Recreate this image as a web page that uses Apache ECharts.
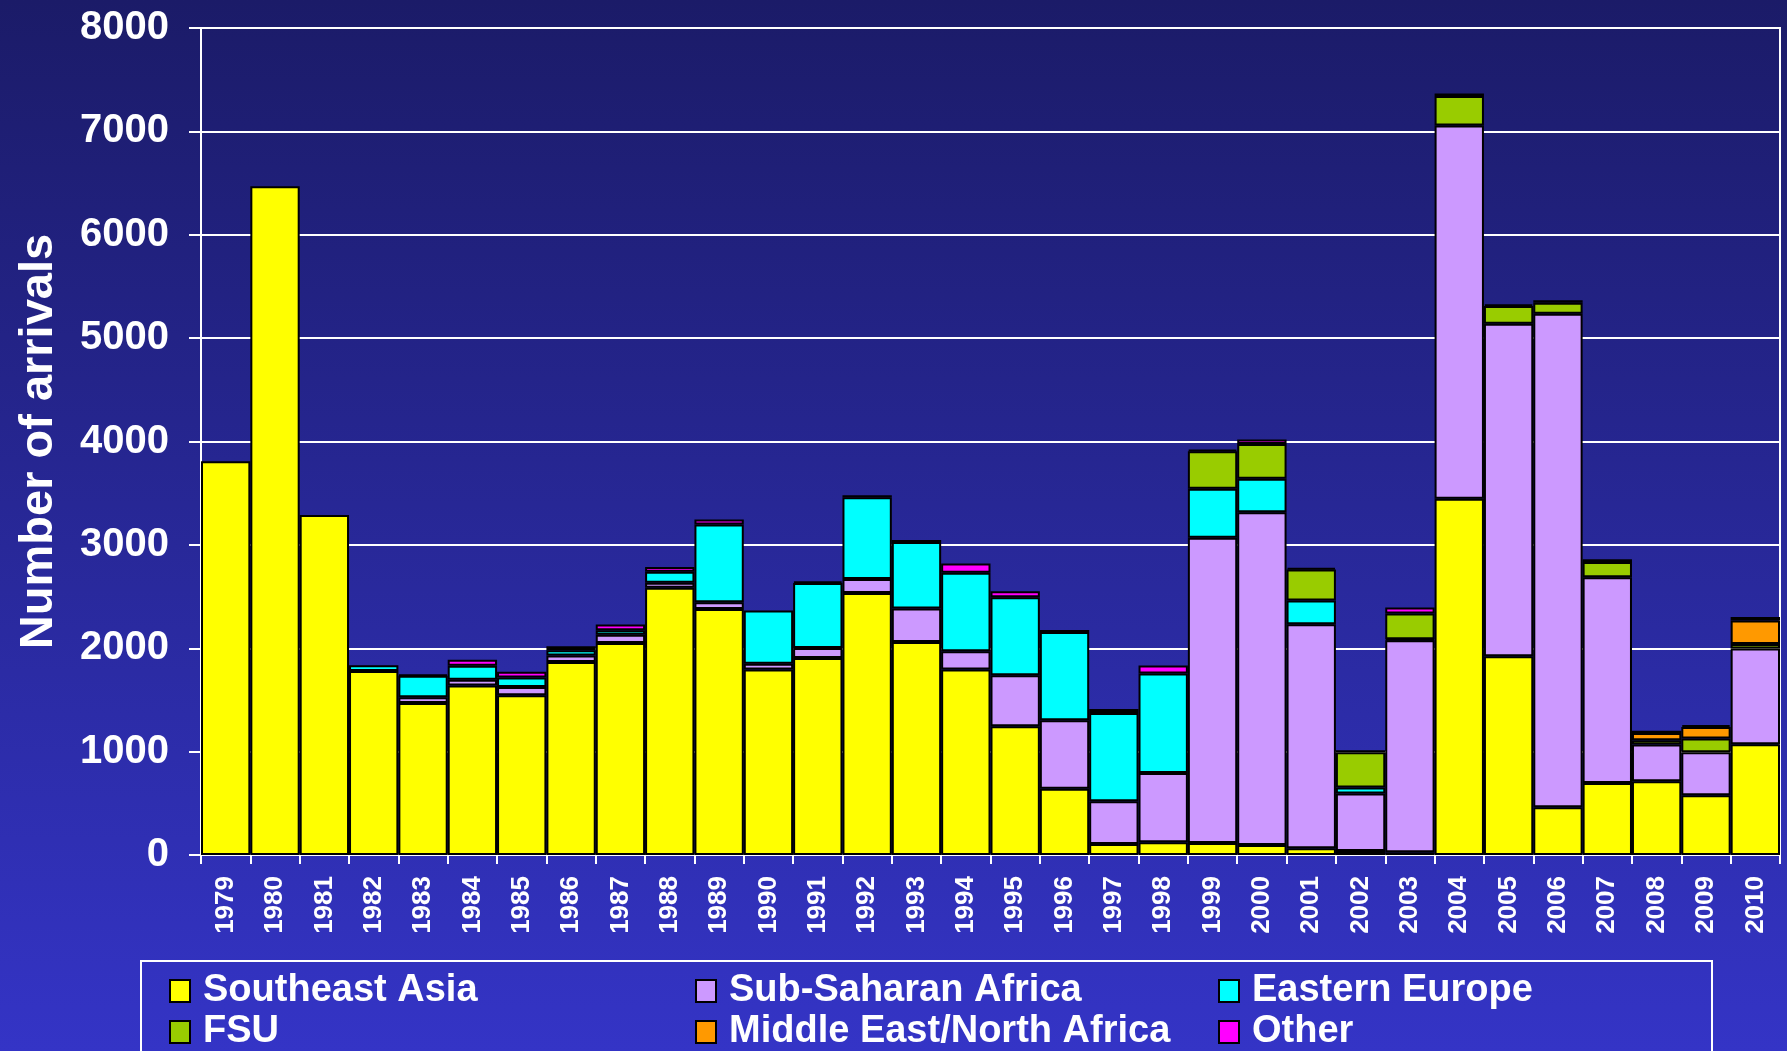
<!DOCTYPE html>
<html>
<head>
<meta charset="utf-8">
<script src="https://cdn.jsdelivr.net/npm/echarts@6/dist/echarts.min.js"></script>
<style>
html,body{margin:0;padding:0;width:1787px;height:1051px;overflow:hidden;}
#chart{width:1787px;height:1051px;}
</style>
</head>
<body>
<div id="chart"></div>
<script>
// ---- data ----
const years = ['1979','1980','1981','1982','1983','1984','1985','1986','1987','1988','1989','1990','1991','1992','1993','1994','1995','1996','1997','1998','1999','2000','2001','2002','2003','2004','2005','2006','2007','2008','2009','2010'];
const southeastAsia = [3810,6470,3290,1780,1470,1640,1545,1868,2050,2585,2380,1795,1905,2535,2060,1795,1245,640,106,123,116,97,65,39,26,3445,1923,461,697,713,577,1071];
const subSaharanAfrica = [0,0,0,0,55,55,80,61,80,48,65,55,97,135,325,177,494,664,413,671,2952,3219,2167,555,2051,3613,3216,4774,1990,355,417,926];
const easternEurope = [0,0,0,55,210,135,93,52,45,107,752,515,630,790,642,758,755,852,855,961,474,323,229,58,10,0,0,0,0,0,0,0];
const fsu = [0,0,0,0,0,0,0,0,0,0,0,0,0,0,0,0,0,0,0,0,364,338,300,342,250,284,171,107,148,42,132,45];
const middleEastNorthAfrica = [0,0,0,0,0,0,0,0,0,0,0,0,0,0,0,0,0,0,0,0,0,0,0,0,0,0,0,0,0,71,113,226];
const other = [0,0,0,0,10,58,55,38,55,45,48,0,15,20,20,90,58,20,39,77,15,42,18,20,58,25,18,25,25,20,18,35];
const yTicks = [0,1000,2000,3000,4000,5000,6000,7000,8000];

const seriesDefs = [
  ['Southeast Asia', southeastAsia, '#ffff00'],
  ['Sub-Saharan Africa', subSaharanAfrica, '#cc99ff'],
  ['Eastern Europe', easternEurope, '#00ffff'],
  ['FSU', fsu, '#99cc00'],
  ['Middle East/North Africa', middleEastNorthAfrica, '#ff9900'],
  ['Other', other, '#ff00ff']
];

const FONT = '"Liberation Sans", Arial, sans-serif';
const chart = echarts.init(document.getElementById('chart'));

// legend layout: [name, left, top]
const legendSlots = [
  ['Southeast Asia', 169, 972], ['Sub-Saharan Africa', 695, 972], ['Eastern Europe', 1218, 972],
  ['FSU', 169, 1013], ['Middle East/North Africa', 695, 1013], ['Other', 1218, 1013]
];
const legends = legendSlots.map(([name, left, top]) => ({
  left: left, top: top, data: [name], orient: 'horizontal', padding: 0, itemGap: 0,
  itemWidth: 20, itemHeight: 22, icon: 'rect', selectedMode: false,
  textStyle: {color: '#fff', fontSize: 38, fontWeight: 'bold', fontFamily: FONT, lineHeight: 30, padding: [0,0,0,8]}
}));

chart.setOption({
  backgroundColor: {type: 'linear', x: 0, y: 0, x2: 0, y2: 1,
    colorStops: [{offset: 0, color: '#1b1b68'}, {offset: 1, color: '#3434c6'}]},
  animation: false,
  grid: {left: 201, right: 7, top: 28, bottom: 196, show: true, borderColor: '#ffffff', borderWidth: 2, backgroundColor: 'transparent'},
  legend: legends,
  graphic: [{type: 'rect', left: 140, top: 960, shape: {width: 1571, height: 200},
    style: {fill: 'transparent', stroke: '#ffffff', lineWidth: 2}, z: 100}],
  xAxis: {
    type: 'category', data: years, boundaryGap: true,
    axisLine: {lineStyle: {color: '#ffffff', width: 2}},
    axisTick: {show: true, length: 9, alignWithLabel: false, lineStyle: {color: '#ffffff', width: 2}},
    axisLabel: {rotate: 90, interval: 0, margin: 21, color: '#ffffff', fontSize: 26, fontWeight: 'bold',
      fontFamily: FONT}
  },
  yAxis: {
    type: 'value', min: yTicks[0], max: yTicks[yTicks.length - 1], interval: 1000,
    name: 'Number of arrivals', nameLocation: 'middle', nameGap: 138,
    nameTextStyle: {color: '#ffffff', fontSize: 47, fontWeight: 'bold', fontFamily: FONT},
    axisLine: {show: true, lineStyle: {color: '#ffffff', width: 2}},
    axisTick: {show: true, length: 12, lineStyle: {color: '#ffffff', width: 2}},
    axisLabel: {margin: 32, color: '#ffffff', fontSize: 40, fontWeight: 'bold', fontFamily: FONT,
      formatter: v => String(v)},
    splitLine: {show: true, lineStyle: {color: '#ffffff', width: 2}}
  },
  series: seriesDefs.map(([name, vals, color]) => ({
    name: name, type: 'bar', stack: 'total', barCategoryGap: '0%',
    data: vals.map(v => v === 0 ? '-' : v),
    itemStyle: {color: color, borderColor: '#000000', borderWidth: 2},
    emphasis: {disabled: true}
  }))
});
</script>
</body>
</html>
